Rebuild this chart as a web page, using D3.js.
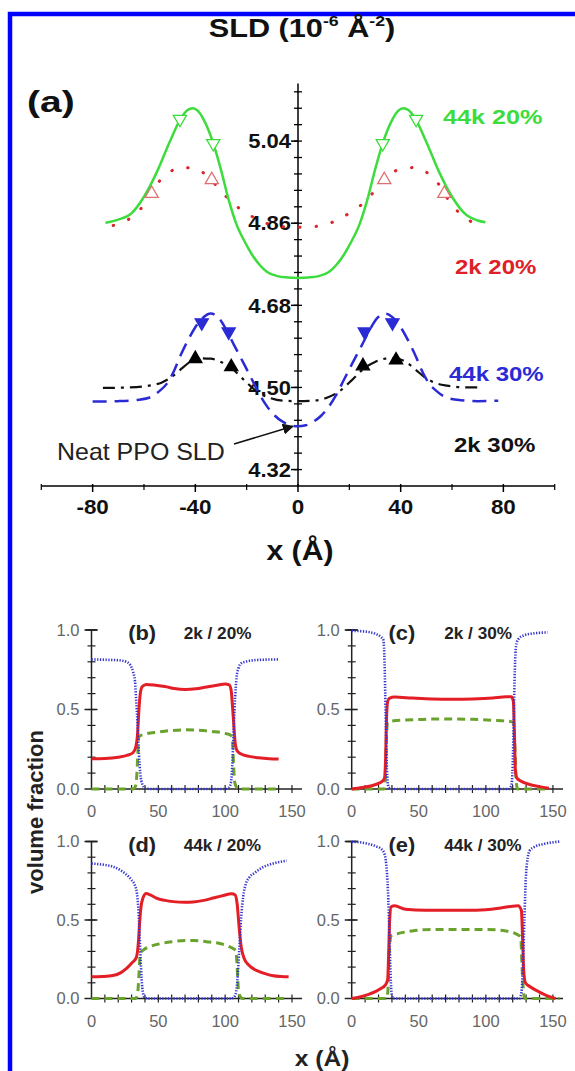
<!DOCTYPE html>
<html>
<head>
<meta charset="utf-8">
<script src="https://cdn.jsdelivr.net/npm/d3@7"></script>
<style>
body{margin:0;background:#fff}
svg{display:block}
text{font-family:"Liberation Sans",Arial,sans-serif}
</style>
</head>
<body>
<svg id="fig" width="575" height="1071"></svg>
<script>
// ---- panel (a): SLD profiles, [x (A), SLD]
var green44k20 = [[-75,4.861],[-70,4.868],[-65,4.881],[-60,4.918],[-55,4.972],[-50,5.038],[-46,5.086],[-43,5.108],[-41,5.112],[-39,5.106],[-37,5.090],[-35,5.066],[-33,5.035],[-30,4.977],[-27,4.911],[-24,4.858],[-21,4.822],[-18,4.792],[-15,4.769],[-12,4.753],[-8,4.744],[-4,4.741],[0,4.740],[4,4.741],[8,4.744],[12,4.753],[15,4.769],[18,4.792],[21,4.822],[24,4.858],[27,4.911],[30,4.977],[33,5.035],[35,5.066],[37,5.090],[39,5.106],[41,5.112],[43,5.108],[46,5.086],[50,5.038],[55,4.972],[60,4.918],[65,4.881],[70,4.866],[73,4.862]];
var red2k20 = [[-72,4.855],[-68,4.862],[-64,4.877],[-60,4.900],[-57,4.925],[-54,4.952],[-50,4.972],[-46,4.982],[-42,4.981],[-38,4.975],[-34,4.955],[-30,4.932],[-27,4.912],[-23,4.893],[-20,4.882],[-15,4.866],[-10,4.856],[-5,4.852],[0,4.851],[5,4.852],[10,4.856],[15,4.866],[20,4.882],[23,4.893],[27,4.912],[30,4.932],[34,4.955],[38,4.975],[42,4.981],[46,4.982],[50,4.972],[54,4.952],[57,4.925],[60,4.900],[64,4.877],[68,4.862],[72,4.855]];
var blue44k30 = [[-80,4.469],[-70,4.470],[-62,4.473],[-57,4.480],[-54,4.492],[-51,4.509],[-48,4.540],[-46,4.567],[-43,4.602],[-40,4.632],[-37,4.653],[-34,4.662],[-31,4.653],[-28,4.627],[-25,4.594],[-21,4.551],[-18,4.518],[-15,4.485],[-12,4.458],[-9,4.438],[-6,4.425],[-3,4.417],[0,4.415],[3,4.417],[6,4.425],[9,4.438],[12,4.458],[15,4.485],[18,4.518],[21,4.551],[25,4.594],[28,4.627],[31,4.653],[34,4.662],[37,4.653],[40,4.632],[43,4.602],[46,4.567],[48,4.540],[51,4.509],[54,4.492],[57,4.480],[62,4.473],[70,4.470],[78,4.471]];
var black2k30 = [[-76,4.499],[-66,4.500],[-58,4.504],[-53,4.511],[-49,4.524],[-46,4.538],[-42,4.556],[-38,4.564],[-34,4.563],[-30,4.556],[-26,4.543],[-21,4.516],[-16,4.491],[-11,4.477],[-6,4.471],[0,4.470],[6,4.471],[11,4.477],[16,4.491],[21,4.516],[26,4.543],[30,4.556],[34,4.563],[38,4.564],[42,4.556],[46,4.538],[49,4.524],[53,4.511],[58,4.504],[66,4.500],[71,4.500]];

var greenMarks = [[-46,5.088],[-33,5.035],[33,5.035],[46,5.088]];
var redMarks = [[-57,4.925],[-33.6,4.955],[33.6,4.955],[57,4.925]];
var blueMarks = [[-37.5,4.642],[-27,4.622],[26,4.622],[36.8,4.642]];
var blackMarks = [[-40,4.563],[-26,4.545],[25.3,4.547],[38.2,4.560]];

var sldTickLabels = [4.32, 4.50, 4.68, 4.86, 5.04];
var xTickLabels = [-80, -40, 0, 40, 80];
var xMinorTicks = [-100, -60, -20, 20, 60, 100];

// ---- panels (b)-(e): volume fraction profiles, [x (A), fraction]
var blueB = [[0,0.815],[10,0.813],[20,0.81],[26,0.80],[29,0.78],[31,0.74],[32.5,0.68],[33.5,0.55],[34.5,0.40],[35.5,0.22],[36.5,0.10],[38,0.03],[40,0.005],[45,0],[100,0],[103,0.01],[104.5,0.05],[105.5,0.18],[106.5,0.40],[107.5,0.58],[108.5,0.70],[110,0.76],[112,0.79],[115,0.80],[125,0.812],[140,0.815]];
var redB = [[0,0.19],[10,0.192],[20,0.2],[27,0.213],[31,0.228],[33,0.26],[34.5,0.35],[35.5,0.5],[36.5,0.6],[38,0.645],[41,0.658],[48,0.653],[55,0.645],[62,0.632],[70,0.626],[78,0.63],[86,0.642],[94,0.653],[100,0.66],[103,0.655],[104.5,0.62],[105.5,0.52],[106.5,0.40],[107.5,0.29],[109,0.24],[112,0.22],[118,0.205],[125,0.196],[133,0.19],[140,0.188]];
var greenB = [[0,0],[31,0],[33,0.02],[34,0.1],[34.8,0.25],[35.5,0.33],[40,0.345],[50,0.358],[60,0.368],[70,0.372],[80,0.37],[90,0.362],[100,0.35],[104,0.34],[105.5,0.3],[106.3,0.15],[107,0.05],[108,0.02],[110,0],[140,0]];

var blueC = [[0,0.995],[10,0.99],[18,0.975],[22,0.955],[23.5,0.94],[24.3,0.85],[25,0.6],[25.7,0.3],[26.5,0.08],[27.5,0.01],[30,0],[117,0],[119,0.02],[120,0.15],[120.8,0.45],[121.6,0.75],[122.5,0.9],[124,0.94],[128,0.965],[135,0.978],[146,0.985]];
var redC = [[0,0.0],[8,0.01],[15,0.02],[20,0.035],[23,0.05],[24.5,0.07],[25.3,0.2],[26,0.45],[26.8,0.55],[28,0.57],[32,0.578],[45,0.572],[60,0.566],[75,0.564],[90,0.566],[105,0.572],[115,0.58],[119,0.58],[120.5,0.55],[121.3,0.35],[122,0.12],[123,0.07],[126,0.05],[132,0.03],[140,0.015],[147,0.005]];
var greenC = [[0,0],[24,0],[25,0.05],[25.8,0.3],[26.8,0.42],[30,0.428],[45,0.435],[60,0.44],[75,0.44],[90,0.438],[105,0.432],[118,0.425],[120.5,0.42],[121.5,0.3],[122.3,0.1],[123.5,0],[147,0]];

var blueD = [[0,0.86],[8,0.853],[16,0.84],[22,0.815],[26,0.79],[30,0.755],[32.5,0.72],[34,0.67],[35,0.58],[36,0.4],[37,0.2],[38,0.07],[39.5,0.01],[42,0],[105,0],[107.5,0.02],[109,0.1],[110.5,0.3],[112,0.52],[113.5,0.65],[115.5,0.73],[118,0.77],[122,0.8],[128,0.835],[136,0.86],[146,0.878]];
var redD = [[0,0.138],[8,0.14],[16,0.146],[22,0.165],[26,0.19],[30,0.225],[33.5,0.26],[35,0.35],[36,0.48],[37,0.58],[38.5,0.64],[41,0.668],[44,0.66],[48.5,0.64],[55,0.625],[61,0.617],[70,0.613],[76,0.615],[84,0.625],[91,0.64],[98,0.655],[105,0.667],[107.5,0.66],[109,0.6],[110.5,0.45],[112,0.33],[114,0.26],[118,0.21],[122,0.185],[126,0.17],[131,0.155],[136,0.145],[142,0.14],[147.5,0.138]];
var greenD = [[0,0],[33,0],[34.5,0.03],[35.5,0.15],[36.5,0.29],[39,0.31],[43.5,0.33],[52,0.35],[61,0.362],[70,0.37],[76,0.37],[86,0.362],[96,0.35],[103,0.33],[108,0.305],[109,0.2],[110,0.05],[111.5,0.01],[113,0],[147,0]];

var blueE = [[0,0.998],[6,0.995],[12.3,0.985],[18,0.97],[22.3,0.95],[24.8,0.91],[26,0.83],[27.3,0.63],[28.3,0.35],[29.2,0.1],[30,0.02],[31,0],[125,0],[126.5,0.04],[127.5,0.18],[128.7,0.5],[130,0.8],[132.5,0.94],[136,0.965],[143.7,0.985],[155,1.0]];
var redE = [[0,0.0],[6,0.01],[12,0.025],[18,0.045],[22,0.065],[25,0.085],[26.8,0.12],[27.6,0.3],[28.3,0.5],[29.5,0.585],[32,0.59],[40,0.568],[55,0.562],[70,0.562],[85,0.562],[100,0.566],[112,0.578],[120,0.588],[124,0.59],[126.5,0.56],[127.3,0.4],[128.2,0.18],[129.5,0.1],[133,0.075],[138,0.05],[143,0.028],[148,0.01],[152,0.0]];
var greenE = [[0,0],[26,0],[27,0.05],[28,0.3],[29.5,0.4],[33,0.41],[45,0.43],[60,0.44],[80,0.44],[100,0.44],[115,0.43],[124,0.405],[126,0.39],[127,0.2],[128,0.05],[129,0],[155,0]];

var fracTickLabels = [0, 0.5, 1.0];
var posTickLabels = [0, 50, 100, 150];

var svg = d3.select("#fig");

// text placed with a slight horizontal stretch, like the original figure's lettering
function label(g, x, y, str, size, opt){
  opt = opt || {};
  var t = g.append("text")
    .attr("transform", "translate(" + x + "," + y + ") scale(" + (opt.sx || 1) + ",1)" + (opt.rot ? " rotate(" + opt.rot + ")" : ""))
    .attr("font-size", size)
    .attr("font-weight", opt.weight || "bold")
    .attr("fill", opt.fill || "#111")
    .attr("text-anchor", opt.anchor || "start");
  if (opt.dy) t.attr("dy", opt.dy);
  if (str !== null) t.text(str);
  return t;
}

// blue frame
svg.append("rect").attr("x", 10).attr("y", 14).attr("width", 700).attr("height", 1200)
  .attr("fill", "none").attr("stroke", "#0000ff").attr("stroke-width", 4.5);

// ================= panel (a)
var xS = d3.scaleLinear().domain([-100, 100]).range([41.3, 554.7]);
var yS = d3.scaleLinear().domain([4.284, 5.166]).range([486, 83.6]);
var gA = svg.append("g");

gA.append("line").attr("x1", xS(-100)).attr("x2", xS(100)).attr("y1", yS(4.284)).attr("y2", yS(4.284))
  .attr("stroke", "#000").attr("stroke-width", 1.5);
gA.append("line").attr("x1", xS(0)).attr("x2", xS(0)).attr("y1", yS(5.166)).attr("y2", yS(4.284))
  .attr("stroke", "#000").attr("stroke-width", 1.5);

xTickLabels.forEach(function(t){
  gA.append("line").attr("x1", xS(t)).attr("x2", xS(t)).attr("y1", yS(4.284)-2).attr("y2", yS(4.284)+6)
    .attr("stroke", "#000").attr("stroke-width", 1.5);
  label(gA, xS(t), yS(4.284)+28, t, 20, {anchor: "middle", sx: 1.12});
});
xMinorTicks.forEach(function(t){
  gA.append("line").attr("x1", xS(t)).attr("x2", xS(t)).attr("y1", yS(4.284)-2).attr("y2", yS(4.284)+4)
    .attr("stroke", "#000").attr("stroke-width", 1.2);
});

d3.range(4.32, 5.16, 0.036).forEach(function(v){
  gA.append("line").attr("x1", xS(0)-4).attr("x2", xS(0)+4).attr("y1", yS(v)).attr("y2", yS(v))
    .attr("stroke", "#000").attr("stroke-width", 1.3);
});
sldTickLabels.forEach(function(v){
  gA.append("line").attr("x1", xS(0)-7).attr("x2", xS(0)).attr("y1", yS(v)).attr("y2", yS(v))
    .attr("stroke", "#000").attr("stroke-width", 1.5);
  label(gA, xS(0)-7, yS(v), v.toFixed(2), 20, {anchor: "end", sx: 1.1, dy: "0.36em"});
});

var lineA = d3.line().x(function(d){ return xS(d[0]); }).y(function(d){ return yS(d[1]); })
  .curve(d3.curveMonotoneX);

gA.append("path").datum(red2k20).attr("d", lineA).attr("fill", "none")
  .attr("stroke", "#d8262b").attr("stroke-width", 3).attr("stroke-linecap", "round")
  .attr("stroke-dasharray", "0.5,16");
gA.append("path").datum(green44k20).attr("d", lineA).attr("fill", "none")
  .attr("stroke", "#3ddc3d").attr("stroke-width", 2.5);
gA.append("path").datum(black2k30).attr("d", lineA).attr("fill", "none")
  .attr("stroke", "#111").attr("stroke-width", 2.2).attr("stroke-dasharray", "12,6,3,6");
gA.append("path").datum(blue44k30).attr("d", lineA).attr("fill", "none")
  .attr("stroke", "#2b2bd6").attr("stroke-width", 2.5).attr("stroke-dasharray", "14,8");

var tri = d3.symbol().type(d3.symbolTriangle).size(75);
function marks(data, rot, fill, stroke){
  gA.selectAll(null).data(data).enter().append("path").attr("d", tri)
    .attr("transform", function(d){ return "translate(" + xS(d[0]) + "," + yS(d[1]) + ") rotate(" + rot + ")"; })
    .attr("fill", fill).attr("stroke", stroke).attr("stroke-width", 1.3);
}
marks(greenMarks, 180, "#fff", "#3ddc3d");
marks(redMarks, 0, "#fff", "#e07070");
marks(blueMarks, 180, "#2b2bd6", "#2b2bd6");
marks(blackMarks, 0, "#000", "#000");

// series labels
label(gA, 443, 124, "44k 20%", 21, {sx: 1.2, fill: "#3ddc3d"});
label(gA, 455, 274, "2k 20%", 20, {sx: 1.2, fill: "#e02028"});
label(gA, 449, 381, "44k 30%", 20, {sx: 1.2, fill: "#2b2bd6"});
label(gA, 454, 452, "2k 30%", 20, {sx: 1.2, fill: "#111"});

label(gA, 57, 460, "Neat PPO SLD", 24, {sx: 1.04, weight: "normal", fill: "#222"});
svg.append("defs").append("marker").attr("id", "arr").attr("viewBox", "0 0 10 10")
  .attr("refX", 9).attr("refY", 5).attr("markerWidth", 7).attr("markerHeight", 7).attr("orient", "auto")
  .append("path").attr("d", "M0,0L10,5L0,10z").attr("fill", "#111");
gA.append("line").attr("x1", 234).attr("y1", 444).attr("x2", xS(-2)).attr("y2", yS(4.415))
  .attr("stroke", "#111").attr("stroke-width", 1.6).attr("marker-end", "url(#arr)");

label(gA, 27, 112, "(a)", 30, {sx: 1.3});
var ttl = label(gA, 302, 37, null, 26, {anchor: "middle", sx: 1.18});
ttl.append("tspan").text("SLD (10");
ttl.append("tspan").attr("font-size", 15).attr("dy", -11).text("-6");
ttl.append("tspan").attr("dy", 11).text(" Å");
ttl.append("tspan").attr("font-size", 15).attr("dy", -11).text("-2");
ttl.append("tspan").attr("dy", 11).text(")");

label(gA, 300, 560, "x (Å)", 27, {anchor: "middle", sx: 1.12});

// ================= panels (b)-(e)
var panels = [
  {tag: "(b)", title: "2k / 20%", blue: blueB, red: redB, green: greenB, xr: [91.5, 302], yr: [789, 630]},
  {tag: "(c)", title: "2k / 30%", blue: blueC, red: redC, green: greenC, xr: [351.7, 563], yr: [789, 630]},
  {tag: "(d)", title: "44k / 20%", blue: blueD, red: redD, green: greenD, xr: [91.5, 302], yr: [998.5, 841.5]},
  {tag: "(e)", title: "44k / 30%", blue: blueE, red: redE, green: greenE, xr: [351.7, 563], yr: [998.5, 841.5]}
];

panels.forEach(function(p){
  var x = d3.scaleLinear().domain([0, 157.5]).range(p.xr);
  var y = d3.scaleLinear().domain([0, 1]).range(p.yr);
  var g = svg.append("g");

  g.append("line").attr("x1", x(0)).attr("x2", x(157.5)).attr("y1", y(0)).attr("y2", y(0))
    .attr("stroke", "#222").attr("stroke-width", 1.5);
  g.append("line").attr("x1", x(0)).attr("x2", x(0)).attr("y1", y(0)).attr("y2", y(1))
    .attr("stroke", "#222").attr("stroke-width", 1.5);
  d3.range(10, 160, 10).forEach(function(t){
    g.append("line").attr("x1", x(t)).attr("x2", x(t)).attr("y1", y(0)-4).attr("y2", y(0)+4)
      .attr("stroke", "#222").attr("stroke-width", 1.2);
  });
  d3.range(0.1, 1.01, 0.1).forEach(function(v){
    g.append("line").attr("x1", x(0)-4).attr("x2", x(0)+4).attr("y1", y(v)).attr("y2", y(v))
      .attr("stroke", "#222").attr("stroke-width", 1.2);
  });
  g.append("line").attr("x1", x(0)-6).attr("x2", x(0)+6).attr("y1", y(1)).attr("y2", y(1))
    .attr("stroke", "#222").attr("stroke-width", 1.5);
  fracTickLabels.forEach(function(v){
    g.append("line").attr("x1", x(0)-7).attr("x2", x(0)+6).attr("y1", y(v)).attr("y2", y(v))
      .attr("stroke", "#222").attr("stroke-width", 1.5);
    label(g, x(0)-12, y(v), v.toFixed(1), 16.5, {anchor: "end", weight: "normal", fill: "#666", dy: "0.36em"});
  });
  posTickLabels.forEach(function(t){
    label(g, x(t), y(0)+28, t, 16.5, {anchor: "middle", weight: "normal", fill: "#666"});
  });

  var ln = d3.line().x(function(d){ return x(d[0]); }).y(function(d){ return y(d[1]); })
    .curve(d3.curveMonotoneX);
  g.append("path").datum(p.green).attr("d", ln).attr("fill", "none")
    .attr("stroke", "#6aa22e").attr("stroke-width", 3).attr("stroke-dasharray", "8,5");
  g.append("path").datum(p.red).attr("d", ln).attr("fill", "none")
    .attr("stroke", "#e41e26").attr("stroke-width", 3);
  g.append("path").datum(p.blue).attr("d", ln).attr("fill", "none")
    .attr("stroke", "#3636d0").attr("stroke-width", 2.6).attr("stroke-dasharray", "1.3,1.5");

  label(g, x(27.5), y(1)+10, p.tag, 19.5, {sx: 1.12, fill: "#222"});
  label(g, x(69), y(1)+9, p.title, 16.5, {sx: 1.04, fill: "#222"});
});

label(svg, 43, 812, "volume fraction", 22, {anchor: "middle", rot: -90, fill: "#222"});
label(svg, 322, 1066, "x (Å)", 22, {anchor: "middle", sx: 1.12, fill: "#222"});
</script>
</body>
</html>
